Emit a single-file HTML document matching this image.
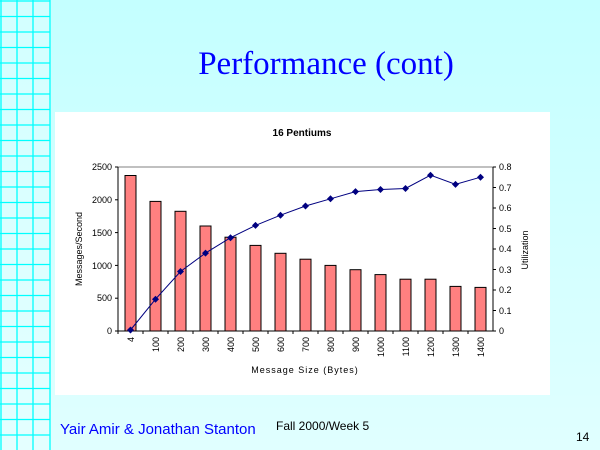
<!DOCTYPE html>
<html><head><style>
html,body{margin:0;padding:0;}
body{width:600px;height:450px;overflow:hidden;position:relative;background:linear-gradient(#c4ffff,#e0ffff);font-family:"Liberation Sans",sans-serif;}
</style></head><body>
<svg width="600" height="450" style="position:absolute;left:0;top:0" font-family="Liberation Sans, sans-serif">
<defs><linearGradient id="g" x1="0" y1="0" x2="0" y2="1"><stop offset="0" stop-color="#d2ffff"/><stop offset="1" stop-color="#e4ffff"/></linearGradient></defs>
<rect x="0" y="0" width="51" height="450" fill="url(#g)"/>
<g stroke="#00ffff" stroke-width="1.3">
<line x1="1" y1="0" x2="1" y2="450"/><line x1="17" y1="0" x2="17" y2="450"/><line x1="33" y1="0" x2="33" y2="450"/><line x1="50" y1="0" x2="50" y2="450"/>
<line x1="0" y1="1" x2="50" y2="1"/><line x1="0" y1="16.5" x2="50" y2="16.5"/><line x1="0" y1="32" x2="50" y2="32"/><line x1="0" y1="47.5" x2="50" y2="47.5"/><line x1="0" y1="63" x2="50" y2="63"/><line x1="0" y1="78.5" x2="50" y2="78.5"/><line x1="0" y1="94" x2="50" y2="94"/><line x1="0" y1="109.5" x2="50" y2="109.5"/><line x1="0" y1="125" x2="50" y2="125"/><line x1="0" y1="140.5" x2="50" y2="140.5"/><line x1="0" y1="156" x2="50" y2="156"/><line x1="0" y1="171.5" x2="50" y2="171.5"/><line x1="0" y1="187" x2="50" y2="187"/><line x1="0" y1="202.5" x2="50" y2="202.5"/><line x1="0" y1="218" x2="50" y2="218"/><line x1="0" y1="233.5" x2="50" y2="233.5"/><line x1="0" y1="249" x2="50" y2="249"/><line x1="0" y1="264.5" x2="50" y2="264.5"/><line x1="0" y1="280" x2="50" y2="280"/><line x1="0" y1="295.5" x2="50" y2="295.5"/><line x1="0" y1="311" x2="50" y2="311"/><line x1="0" y1="326.5" x2="50" y2="326.5"/><line x1="0" y1="342" x2="50" y2="342"/><line x1="0" y1="357.5" x2="50" y2="357.5"/><line x1="0" y1="373" x2="50" y2="373"/><line x1="0" y1="388.5" x2="50" y2="388.5"/><line x1="0" y1="404" x2="50" y2="404"/><line x1="0" y1="419.5" x2="50" y2="419.5"/><line x1="0" y1="435" x2="50" y2="435"/>
</g>
<text x="326" y="74" text-anchor="middle" font-family="Liberation Serif, serif" font-size="33" fill="#0000ff">Performance (cont)</text>
<rect x="55" y="112" width="495" height="283" fill="#fff"/>
<text x="302" y="136" text-anchor="middle" font-size="10" font-weight="bold">16 Pentiums</text>
<line x1="118" y1="167" x2="493" y2="167" stroke="#808080"/>
<g fill="#ff8080" stroke="#000" stroke-width="1">
<rect x="125" y="175.5" width="11" height="155.5"/>
<rect x="150" y="201.4" width="11" height="129.6"/>
<rect x="175" y="211.3" width="11" height="119.7"/>
<rect x="200" y="226" width="11" height="105"/>
<rect x="225" y="237.2" width="11" height="93.8"/>
<rect x="250" y="245.4" width="11" height="85.6"/>
<rect x="275" y="253.3" width="11" height="77.7"/>
<rect x="300" y="259.2" width="11" height="71.8"/>
<rect x="325" y="265.4" width="11" height="65.6"/>
<rect x="350" y="269.7" width="11" height="61.3"/>
<rect x="375" y="274.6" width="11" height="56.4"/>
<rect x="400" y="279.2" width="11" height="51.8"/>
<rect x="425" y="279.2" width="11" height="51.8"/>
<rect x="450" y="286.4" width="11" height="44.6"/>
<rect x="475" y="287.4" width="11" height="43.6"/>
</g>
<g stroke="#000" stroke-width="1">
<line x1="118" y1="167" x2="118" y2="331"/><line x1="118" y1="331" x2="493" y2="331"/><line x1="493" y1="167" x2="493" y2="331"/>
<line x1="115" y1="167" x2="118" y2="167"/><line x1="115" y1="199.8" x2="118" y2="199.8"/><line x1="115" y1="232.6" x2="118" y2="232.6"/><line x1="115" y1="265.4" x2="118" y2="265.4"/><line x1="115" y1="298.2" x2="118" y2="298.2"/><line x1="115" y1="331" x2="118" y2="331"/>
<line x1="493" y1="167" x2="496" y2="167"/><line x1="493" y1="187.5" x2="496" y2="187.5"/><line x1="493" y1="208" x2="496" y2="208"/><line x1="493" y1="228.5" x2="496" y2="228.5"/><line x1="493" y1="249" x2="496" y2="249"/><line x1="493" y1="269.5" x2="496" y2="269.5"/><line x1="493" y1="290" x2="496" y2="290"/><line x1="493" y1="310.5" x2="496" y2="310.5"/><line x1="493" y1="331" x2="496" y2="331"/>
<line x1="143" y1="331" x2="143" y2="334"/><line x1="168" y1="331" x2="168" y2="334"/><line x1="193" y1="331" x2="193" y2="334"/><line x1="218" y1="331" x2="218" y2="334"/><line x1="243" y1="331" x2="243" y2="334"/><line x1="268" y1="331" x2="268" y2="334"/><line x1="293" y1="331" x2="293" y2="334"/><line x1="318" y1="331" x2="318" y2="334"/><line x1="343" y1="331" x2="343" y2="334"/><line x1="368" y1="331" x2="368" y2="334"/><line x1="393" y1="331" x2="393" y2="334"/><line x1="418" y1="331" x2="418" y2="334"/><line x1="443" y1="331" x2="443" y2="334"/><line x1="468" y1="331" x2="468" y2="334"/><line x1="118" y1="331" x2="118" y2="334"/>
</g>
<polyline fill="none" stroke="#000080" stroke-width="1" points="130.5,330 155.5,299.2 180.5,271.5 205.5,253.1 230.5,237.7 255.5,225.4 280.5,215.2 305.5,206 330.5,198.8 355.5,191.6 380.5,189.5 405.5,188.5 430.5,175.2 455.5,184.4 480.5,177.2"/>
<g fill="#000080">
<path d="M130.5 326.5l3.5 3.5-3.5 3.5-3.5-3.5z"/><path d="M155.5 295.7l3.5 3.5-3.5 3.5-3.5-3.5z"/><path d="M180.5 268l3.5 3.5-3.5 3.5-3.5-3.5z"/><path d="M205.5 249.6l3.5 3.5-3.5 3.5-3.5-3.5z"/><path d="M230.5 234.2l3.5 3.5-3.5 3.5-3.5-3.5z"/><path d="M255.5 221.9l3.5 3.5-3.5 3.5-3.5-3.5z"/><path d="M280.5 211.7l3.5 3.5-3.5 3.5-3.5-3.5z"/><path d="M305.5 202.5l3.5 3.5-3.5 3.5-3.5-3.5z"/><path d="M330.5 195.3l3.5 3.5-3.5 3.5-3.5-3.5z"/><path d="M355.5 188.1l3.5 3.5-3.5 3.5-3.5-3.5z"/><path d="M380.5 186l3.5 3.5-3.5 3.5-3.5-3.5z"/><path d="M405.5 185l3.5 3.5-3.5 3.5-3.5-3.5z"/><path d="M430.5 171.7l3.5 3.5-3.5 3.5-3.5-3.5z"/><path d="M455.5 180.9l3.5 3.5-3.5 3.5-3.5-3.5z"/><path d="M480.5 173.7l3.5 3.5-3.5 3.5-3.5-3.5z"/>
</g>
<g font-size="9" text-anchor="end">
<text x="112" y="170">2500</text><text x="112" y="203">2000</text><text x="112" y="236">1500</text><text x="112" y="269">1000</text><text x="112" y="301">500</text><text x="112" y="334">0</text>
</g>
<g font-size="9">
<text x="499" y="170">0.8</text><text x="499" y="191">0.7</text><text x="499" y="211">0.6</text><text x="499" y="232">0.5</text><text x="499" y="252">0.4</text><text x="499" y="273">0.3</text><text x="499" y="293">0.2</text><text x="499" y="314">0.1</text><text x="499" y="334">0</text>
</g>
<g font-size="9" text-anchor="end">
<text transform="translate(134,337) rotate(-90)">4</text><text transform="translate(159,337) rotate(-90)">100</text><text transform="translate(184,337) rotate(-90)">200</text><text transform="translate(209,337) rotate(-90)">300</text><text transform="translate(234,337) rotate(-90)">400</text><text transform="translate(259,337) rotate(-90)">500</text><text transform="translate(284,337) rotate(-90)">600</text><text transform="translate(309,337) rotate(-90)">700</text><text transform="translate(334,337) rotate(-90)">800</text><text transform="translate(359,337) rotate(-90)">900</text><text transform="translate(384,337) rotate(-90)">1000</text><text transform="translate(409,337) rotate(-90)">1100</text><text transform="translate(434,337) rotate(-90)">1200</text><text transform="translate(459,337) rotate(-90)">1300</text><text transform="translate(484,337) rotate(-90)">1400</text>
</g>
<text x="305" y="373" text-anchor="middle" font-size="9" letter-spacing="1">Message Size (Bytes)</text>
<text transform="translate(82,249) rotate(-90)" text-anchor="middle" font-size="9">Messages/Second</text>
<text transform="translate(528,250) rotate(-90)" text-anchor="middle" font-size="9">Utilization</text>
<text x="60" y="434" font-size="15" fill="#0000ff">Yair Amir &amp; Jonathan Stanton</text>
<text x="276" y="430" font-size="12" fill="#000">Fall 2000/Week 5</text>
<text x="576" y="441" font-size="12" fill="#000">14</text>
</svg>
</body></html>
